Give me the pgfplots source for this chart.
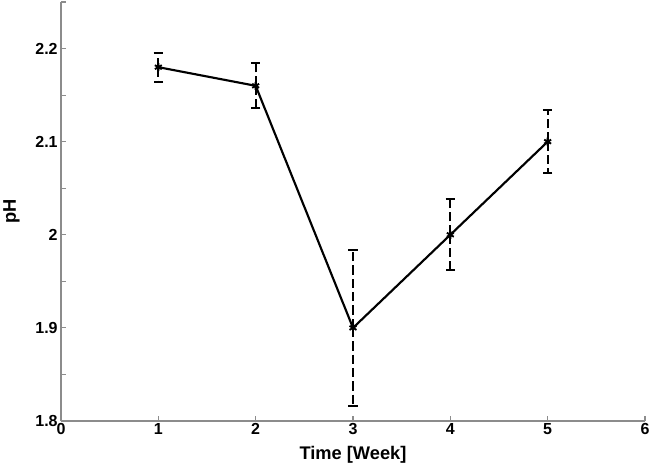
\documentclass[border=0pt]{standalone}
\usepackage{fontspec}
\setmainfont{Liberation Sans}
\usepackage{pgfplots}
\pgfplotsset{compat=1.18}
\begin{document}
\begin{tikzpicture}
\begin{axis}[
  name=ax,
  scale only axis,
  width=438pt, height=314.25pt,
  xmin=0, xmax=6, ymin=1.8, ymax=2.25,
  axis lines=left,
  axis line style={-, draw=gray!90, line width=0.8pt},
  tick style={gray!90, line width=0.8pt},
  tick align=inside,
  major tick length=3.5pt, minor tick length=3.5pt,
  xtick={0,1,2,3,4,5,6},
  ytick={1.8,1.9,2.0,2.1,2.2},
  minor ytick={1.85,1.95,2.05,2.15,2.25},
  yticklabel style={/pgf/number format/fixed},
  /pgf/number format/assume math mode=true,
  ticklabel style={font=\fontsize{12}{14}\selectfont\bfseries, text=black},
  xticklabel style={yshift=2pt},
  yticklabel style={xshift=1pt},
  xlabel={Time [Week]}, ylabel={pH},
  label style={font=\fontsize{13.7}{16}\selectfont\bfseries},
  xlabel style={yshift=-2pt},
  ylabel style={yshift=5pt},
  clip=false,
]
\addplot[black, line width=1.6pt, mark=asterisk, mark size=3pt,
  mark options={solid, line width=1.4pt},
  error bars/.cd, y dir=both, y explicit,
  error bar style={line width=1.5pt, dash pattern=on 7pt off 3pt},
  error mark options={solid, rotate=90, mark size=3.6pt, line width=1.5pt}]
coordinates {
  (1,2.18) +- (0,0.0155)
  (2,2.16) +- (0,0.024)
  (3,1.90) +- (0,0.084)
  (4,2.00) +- (0,0.038)
  (5,2.10) +- (0,0.034)
};
\end{axis}
\pgfresetboundingbox
\path ([shift={(-45.75pt,-33.75pt)}]ax.south west) rectangle ([shift={(3pt,1.5pt)}]ax.north east);
\end{tikzpicture}
\end{document}
